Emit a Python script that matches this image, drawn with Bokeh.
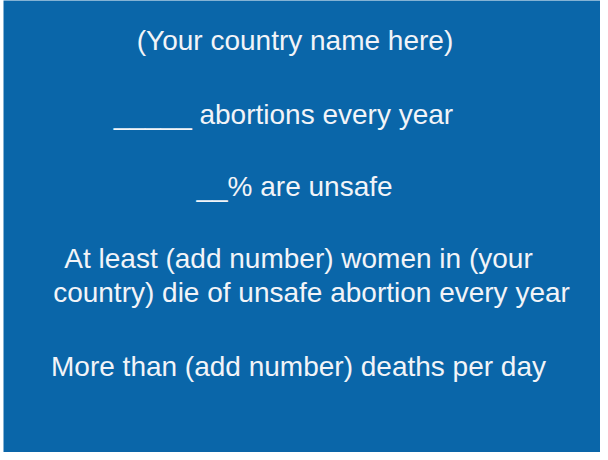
from bokeh.plotting import figure
from bokeh.models import Range1d, ColumnDataSource
from bokeh.core.properties import value
from bokeh.embed import file_html
from bokeh.resources import INLINE

# Slide text (content)
lines = [
    "(Your country name here)",
    "_____ abortions every year",
    "__% are unsafe",
    "At least (add number) women in (your",
    "country) die of unsafe abortion every year",
    "More than (add number) deaths per day",
]

# Layout: line centre x and baseline y in page pixels
line_x = [302.5, 291, 302, 306, 319, 306]
line_y = [48, 122, 194, 266, 300, 374]

BLUE = "#0a66a9"

p = figure(width=600, height=452, output_backend="svg", toolbar_location=None,
           x_range=Range1d(11, 608), y_range=Range1d(460, 8),
           min_border_left=3, min_border_right=0, min_border_top=0, min_border_bottom=0)
p.border_fill_color = "white"
p.background_fill_color = BLUE
p.outline_line_color = None
p.xaxis.visible = False
p.yaxis.visible = False
p.xgrid.visible = False
p.ygrid.visible = False

src = ColumnDataSource(dict(x=line_x, y=line_y, t=lines))
p.text(x="x", y="y", text="t", source=src, text_color="#f2f4f8",
       text_font=value("Liberation Sans"), text_font_size="28px",
       text_align="center", text_baseline="alphabetic")

open("out.html", "w").write(file_html(p, INLINE))
